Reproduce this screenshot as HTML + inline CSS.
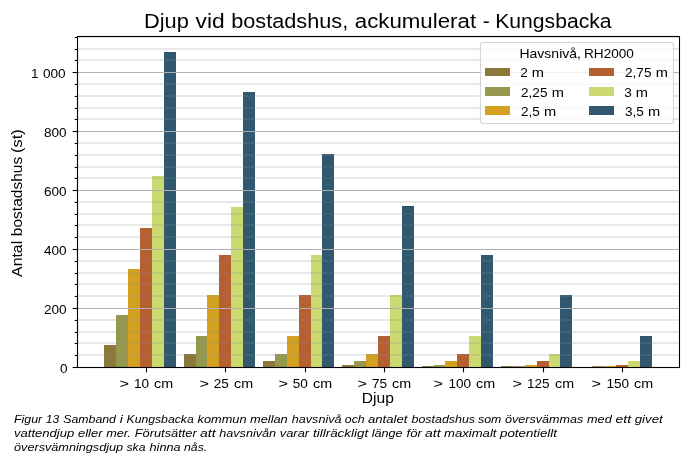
<!DOCTYPE html>
<html><head><meta charset="utf-8"><title>Djup vid bostadshus</title>
<style>
html,body{margin:0;padding:0;background:#fff;}
body{width:700px;height:459px;overflow:hidden;}
svg{display:block;}
text{font-family:"Liberation Sans",sans-serif;fill:#000;}
.tk{font-size:12.9px;}
.lb{font-size:14.3px;}
.cap{font-size:11.5px;}
.ti{font-size:20.0px;}
.cap{font-style:italic;}
</style></head><body>
<svg width="700" height="459" viewBox="0 0 700 459">
<rect x="0" y="0" width="700" height="459" fill="#fff"/>
<g shape-rendering="crispEdges">
<rect x="104" y="345" width="12" height="22.5" fill="#8c783c"/>
<rect x="116" y="315" width="12" height="52.5" fill="#96994d"/>
<rect x="128" y="269" width="12" height="98.5" fill="#d4a020"/>
<rect x="140" y="228" width="12" height="139.5" fill="#b56030"/>
<rect x="152" y="176" width="12" height="191.5" fill="#ccd870"/>
<rect x="164" y="52" width="12" height="315.5" fill="#30586e"/>
<rect x="184" y="354" width="12" height="13.5" fill="#8c783c"/>
<rect x="196" y="336" width="11" height="31.5" fill="#96994d"/>
<rect x="207" y="295" width="12" height="72.5" fill="#d4a020"/>
<rect x="219" y="255" width="12" height="112.5" fill="#b56030"/>
<rect x="231" y="207" width="12" height="160.5" fill="#ccd870"/>
<rect x="243" y="92" width="12" height="275.5" fill="#30586e"/>
<rect x="263" y="361" width="12" height="6.5" fill="#8c783c"/>
<rect x="275" y="354" width="12" height="13.5" fill="#96994d"/>
<rect x="287" y="336" width="12" height="31.5" fill="#d4a020"/>
<rect x="299" y="295" width="12" height="72.5" fill="#b56030"/>
<rect x="311" y="255" width="11" height="112.5" fill="#ccd870"/>
<rect x="322" y="154" width="12" height="213.5" fill="#30586e"/>
<rect x="342" y="365" width="12" height="2.5" fill="#8c783c"/>
<rect x="354" y="361" width="12" height="6.5" fill="#96994d"/>
<rect x="366" y="354" width="12" height="13.5" fill="#d4a020"/>
<rect x="378" y="336" width="12" height="31.5" fill="#b56030"/>
<rect x="390" y="295" width="12" height="72.5" fill="#ccd870"/>
<rect x="402" y="206" width="12" height="161.5" fill="#30586e"/>
<rect x="422" y="366" width="12" height="1.5" fill="#8c783c"/>
<rect x="434" y="365" width="11" height="2.5" fill="#96994d"/>
<rect x="445" y="361" width="12" height="6.5" fill="#d4a020"/>
<rect x="457" y="354" width="12" height="13.5" fill="#b56030"/>
<rect x="469" y="336" width="12" height="31.5" fill="#ccd870"/>
<rect x="481" y="255" width="12" height="112.5" fill="#30586e"/>
<rect x="501" y="366" width="12" height="1.5" fill="#8c783c"/>
<rect x="513" y="366" width="12" height="1.5" fill="#96994d"/>
<rect x="525" y="365" width="12" height="2.5" fill="#d4a020"/>
<rect x="537" y="361" width="12" height="6.5" fill="#b56030"/>
<rect x="549" y="354" width="11" height="13.5" fill="#ccd870"/>
<rect x="560" y="295" width="12" height="72.5" fill="#30586e"/>
<rect x="592" y="366" width="12" height="1.5" fill="#96994d"/>
<rect x="604" y="366" width="12" height="1.5" fill="#d4a020"/>
<rect x="616" y="365" width="12" height="2.5" fill="#b56030"/>
<rect x="628" y="361" width="12" height="6.5" fill="#ccd870"/>
<rect x="640" y="336" width="12" height="31.5" fill="#30586e"/>
</g>
<g stroke="#8c8c8c" stroke-opacity="0.2" stroke-width="2">
<line x1="77.5" x2="679.5" y1="355.0" y2="355.0"/>
<line x1="77.5" x2="679.5" y1="343.0" y2="343.0"/>
<line x1="77.5" x2="679.5" y1="332.0" y2="332.0"/>
<line x1="77.5" x2="679.5" y1="320.0" y2="320.0"/>
<line x1="77.5" x2="679.5" y1="296.0" y2="296.0"/>
<line x1="77.5" x2="679.5" y1="284.0" y2="284.0"/>
<line x1="77.5" x2="679.5" y1="273.0" y2="273.0"/>
<line x1="77.5" x2="679.5" y1="261.0" y2="261.0"/>
<line x1="77.5" x2="679.5" y1="237.0" y2="237.0"/>
<line x1="77.5" x2="679.5" y1="225.0" y2="225.0"/>
<line x1="77.5" x2="679.5" y1="214.0" y2="214.0"/>
<line x1="77.5" x2="679.5" y1="202.0" y2="202.0"/>
<line x1="77.5" x2="679.5" y1="178.0" y2="178.0"/>
<line x1="77.5" x2="679.5" y1="167.0" y2="167.0"/>
<line x1="77.5" x2="679.5" y1="155.0" y2="155.0"/>
<line x1="77.5" x2="679.5" y1="143.0" y2="143.0"/>
<line x1="77.5" x2="679.5" y1="119.0" y2="119.0"/>
<line x1="77.5" x2="679.5" y1="108.0" y2="108.0"/>
<line x1="77.5" x2="679.5" y1="96.0" y2="96.0"/>
<line x1="77.5" x2="679.5" y1="84.0" y2="84.0"/>
<line x1="77.5" x2="679.5" y1="60.0" y2="60.0"/>
<line x1="77.5" x2="679.5" y1="49.0" y2="49.0"/>
<line x1="77.5" x2="679.5" y1="37.0" y2="37.0"/>
</g>
<g stroke="#b0b0b0" stroke-width="1.1">
<line x1="77.5" x2="679.5" y1="308.5" y2="308.5"/>
<line x1="77.5" x2="679.5" y1="249.5" y2="249.5"/>
<line x1="77.5" x2="679.5" y1="190.5" y2="190.5"/>
<line x1="77.5" x2="679.5" y1="131.5" y2="131.5"/>
<line x1="77.5" x2="679.5" y1="72.5" y2="72.5"/>
</g>
<g stroke="#000" stroke-width="1.1">
<line x1="72.64" x2="77.5" y1="367.5" y2="367.5"/>
<line x1="74.72" x2="77.5" y1="355.5" y2="355.5"/>
<line x1="74.72" x2="77.5" y1="343.5" y2="343.5"/>
<line x1="74.72" x2="77.5" y1="332.5" y2="332.5"/>
<line x1="74.72" x2="77.5" y1="320.5" y2="320.5"/>
<line x1="72.64" x2="77.5" y1="308.5" y2="308.5"/>
<line x1="74.72" x2="77.5" y1="296.5" y2="296.5"/>
<line x1="74.72" x2="77.5" y1="284.5" y2="284.5"/>
<line x1="74.72" x2="77.5" y1="273.5" y2="273.5"/>
<line x1="74.72" x2="77.5" y1="261.5" y2="261.5"/>
<line x1="72.64" x2="77.5" y1="249.5" y2="249.5"/>
<line x1="74.72" x2="77.5" y1="237.5" y2="237.5"/>
<line x1="74.72" x2="77.5" y1="225.5" y2="225.5"/>
<line x1="74.72" x2="77.5" y1="214.5" y2="214.5"/>
<line x1="74.72" x2="77.5" y1="202.5" y2="202.5"/>
<line x1="72.64" x2="77.5" y1="190.5" y2="190.5"/>
<line x1="74.72" x2="77.5" y1="178.5" y2="178.5"/>
<line x1="74.72" x2="77.5" y1="167.5" y2="167.5"/>
<line x1="74.72" x2="77.5" y1="155.5" y2="155.5"/>
<line x1="74.72" x2="77.5" y1="143.5" y2="143.5"/>
<line x1="72.64" x2="77.5" y1="131.5" y2="131.5"/>
<line x1="74.72" x2="77.5" y1="119.5" y2="119.5"/>
<line x1="74.72" x2="77.5" y1="108.5" y2="108.5"/>
<line x1="74.72" x2="77.5" y1="96.5" y2="96.5"/>
<line x1="74.72" x2="77.5" y1="84.5" y2="84.5"/>
<line x1="72.64" x2="77.5" y1="72.5" y2="72.5"/>
<line x1="74.72" x2="77.5" y1="60.5" y2="60.5"/>
<line x1="74.72" x2="77.5" y1="49.5" y2="49.5"/>
<line x1="74.72" x2="77.5" y1="37.5" y2="37.5"/>
<line x1="146.5" x2="146.5" y1="367.5" y2="372.36"/>
<line x1="225.5" x2="225.5" y1="367.5" y2="372.36"/>
<line x1="305.5" x2="305.5" y1="367.5" y2="372.36"/>
<line x1="384.5" x2="384.5" y1="367.5" y2="372.36"/>
<line x1="463.5" x2="463.5" y1="367.5" y2="372.36"/>
<line x1="543.5" x2="543.5" y1="367.5" y2="372.36"/>
<line x1="622.5" x2="622.5" y1="367.5" y2="372.36"/>
</g>
<rect x="77.5" y="36.5" width="602.0" height="331.0" fill="none" stroke="#000" stroke-width="1.1"/>
<rect x="480.5" y="42.5" width="193.0" height="81.0" rx="2.5" ry="2.5" fill="#fff" fill-opacity="0.8" stroke="#ccc" stroke-opacity="0.8" stroke-width="1.1"/>
<rect x="485" y="68" width="25" height="8" fill="#8c783c" shape-rendering="crispEdges"/>
<rect x="485" y="87" width="25" height="9" fill="#96994d" shape-rendering="crispEdges"/>
<rect x="485" y="106" width="25" height="9" fill="#d4a020" shape-rendering="crispEdges"/>
<rect x="589" y="68" width="25" height="8" fill="#b56030" shape-rendering="crispEdges"/>
<rect x="589" y="87" width="25" height="9" fill="#ccd870" shape-rendering="crispEdges"/>
<rect x="589" y="106" width="25" height="9" fill="#30586e" shape-rendering="crispEdges"/>
<g style="filter:grayscale(1)">
<text class="tk" y="372.70"><tspan x="60.00" textLength="7.56" lengthAdjust="spacingAndGlyphs">0</tspan></text>
<text class="tk" y="313.70"><tspan x="44.00" textLength="22.67" lengthAdjust="spacingAndGlyphs">200</tspan></text>
<text class="tk" y="254.70"><tspan x="44.00" textLength="22.67" lengthAdjust="spacingAndGlyphs">400</tspan></text>
<text class="tk" y="195.70"><tspan x="44.00" textLength="22.67" lengthAdjust="spacingAndGlyphs">600</tspan></text>
<text class="tk" y="136.70"><tspan x="44.00" textLength="22.67" lengthAdjust="spacingAndGlyphs">800</tspan></text>
<text class="tk" y="77.70"><tspan x="31.00" textLength="7.56" lengthAdjust="spacingAndGlyphs">1</tspan> <tspan x="43.00" textLength="22.67" lengthAdjust="spacingAndGlyphs">000</tspan></text>
<text class="tk" y="387.60"><tspan x="119.50" textLength="9.43" lengthAdjust="spacingAndGlyphs">&gt;</tspan> <tspan x="134.00" textLength="15.11" lengthAdjust="spacingAndGlyphs">10</tspan> <tspan x="154.00" textLength="19.05" lengthAdjust="spacingAndGlyphs">cm</tspan></text>
<text class="tk" y="387.60"><tspan x="199.50" textLength="9.43" lengthAdjust="spacingAndGlyphs">&gt;</tspan> <tspan x="213.75" textLength="15.11" lengthAdjust="spacingAndGlyphs">25</tspan> <tspan x="234.00" textLength="19.05" lengthAdjust="spacingAndGlyphs">cm</tspan></text>
<text class="tk" y="387.60"><tspan x="278.50" textLength="9.43" lengthAdjust="spacingAndGlyphs">&gt;</tspan> <tspan x="292.75" textLength="15.11" lengthAdjust="spacingAndGlyphs">50</tspan> <tspan x="313.00" textLength="19.05" lengthAdjust="spacingAndGlyphs">cm</tspan></text>
<text class="tk" y="387.60"><tspan x="357.50" textLength="9.43" lengthAdjust="spacingAndGlyphs">&gt;</tspan> <tspan x="372.00" textLength="15.11" lengthAdjust="spacingAndGlyphs">75</tspan> <tspan x="392.00" textLength="19.05" lengthAdjust="spacingAndGlyphs">cm</tspan></text>
<text class="tk" y="387.60"><tspan x="433.50" textLength="9.43" lengthAdjust="spacingAndGlyphs">&gt;</tspan> <tspan x="448.50" textLength="22.67" lengthAdjust="spacingAndGlyphs">100</tspan> <tspan x="476.00" textLength="19.05" lengthAdjust="spacingAndGlyphs">cm</tspan></text>
<text class="tk" y="387.60"><tspan x="512.50" textLength="9.43" lengthAdjust="spacingAndGlyphs">&gt;</tspan> <tspan x="527.00" textLength="22.67" lengthAdjust="spacingAndGlyphs">125</tspan> <tspan x="555.00" textLength="19.05" lengthAdjust="spacingAndGlyphs">cm</tspan></text>
<text class="tk" y="387.60"><tspan x="591.50" textLength="9.43" lengthAdjust="spacingAndGlyphs">&gt;</tspan> <tspan x="606.50" textLength="22.67" lengthAdjust="spacingAndGlyphs">150</tspan> <tspan x="634.00" textLength="19.05" lengthAdjust="spacingAndGlyphs">cm</tspan></text>
<text class="lb" y="403.20"><tspan x="361.75" textLength="32.14" lengthAdjust="spacingAndGlyphs">Djup</tspan></text>
<text class="lb" transform="translate(21.70,0) rotate(-90)"><tspan x="-276.90" textLength="36.08" lengthAdjust="spacingAndGlyphs">Antal</tspan> <tspan x="-236.15" textLength="79.32" lengthAdjust="spacingAndGlyphs">bostadshus</tspan> <tspan x="-152.90" textLength="23.50" lengthAdjust="spacingAndGlyphs">(st)</tspan></text>
<text class="ti" y="28.00"><tspan x="144.00" textLength="44.88" lengthAdjust="spacingAndGlyphs">Djup</tspan> <tspan x="195.50" textLength="29.15" lengthAdjust="spacingAndGlyphs">vid</tspan> <tspan x="231.25" textLength="116.92" lengthAdjust="spacingAndGlyphs">bostadshus,</tspan> <tspan x="354.75" textLength="121.32" lengthAdjust="spacingAndGlyphs">ackumulerat</tspan> <tspan x="482.75" textLength="6.99" lengthAdjust="spacingAndGlyphs">-</tspan> <tspan x="495.25" textLength="116.29" lengthAdjust="spacingAndGlyphs">Kungsbacka</tspan></text>
<text class="tk" y="57.70"><tspan x="519.50" textLength="61.40" lengthAdjust="spacingAndGlyphs">Havsnivå,</tspan> <tspan x="584.00" textLength="49.90" lengthAdjust="spacingAndGlyphs">RH2000</tspan></text>
<text class="cap" y="422.75"><tspan x="14.00" textLength="28.18" lengthAdjust="spacingAndGlyphs">Figur</tspan> <tspan x="45.75" textLength="13.45" lengthAdjust="spacingAndGlyphs">13</tspan> <tspan x="63.25" textLength="52.71" lengthAdjust="spacingAndGlyphs">Samband</tspan> <tspan x="119.75" textLength="3.09" lengthAdjust="spacingAndGlyphs">i</tspan> <tspan x="126.50" textLength="67.21" lengthAdjust="spacingAndGlyphs">Kungsbacka</tspan> <tspan x="197.50" textLength="49.02" lengthAdjust="spacingAndGlyphs">kommun</tspan> <tspan x="250.00" textLength="37.73" lengthAdjust="spacingAndGlyphs">mellan</tspan> <tspan x="291.75" textLength="49.79" lengthAdjust="spacingAndGlyphs">havsnivå</tspan> <tspan x="344.75" textLength="19.97" lengthAdjust="spacingAndGlyphs">och</tspan> <tspan x="368.00" textLength="39.34" lengthAdjust="spacingAndGlyphs">antalet</tspan> <tspan x="411.50" textLength="63.60" lengthAdjust="spacingAndGlyphs">bostadshus</tspan> <tspan x="478.00" textLength="23.44" lengthAdjust="spacingAndGlyphs">som</tspan> <tspan x="505.00" textLength="78.29" lengthAdjust="spacingAndGlyphs">översvämmas</tspan> <tspan x="587.00" textLength="24.74" lengthAdjust="spacingAndGlyphs">med</tspan> <tspan x="615.50" textLength="15.57" lengthAdjust="spacingAndGlyphs">ett</tspan> <tspan x="634.75" textLength="27.94" lengthAdjust="spacingAndGlyphs">givet</tspan></text>
<text class="cap" y="436.80"><tspan x="14.00" textLength="60.29" lengthAdjust="spacingAndGlyphs">vattendjup</tspan> <tspan x="78.00" textLength="24.44" lengthAdjust="spacingAndGlyphs">eller</tspan> <tspan x="106.25" textLength="24.78" lengthAdjust="spacingAndGlyphs">mer.</tspan> <tspan x="134.75" textLength="61.95" lengthAdjust="spacingAndGlyphs">Förutsätter</tspan> <tspan x="200.00" textLength="15.54" lengthAdjust="spacingAndGlyphs">att</tspan> <tspan x="219.25" textLength="56.84" lengthAdjust="spacingAndGlyphs">havsnivån</tspan> <tspan x="279.75" textLength="29.37" lengthAdjust="spacingAndGlyphs">varar</tspan> <tspan x="313.00" textLength="55.19" lengthAdjust="spacingAndGlyphs">tillräckligt</tspan> <tspan x="371.75" textLength="30.87" lengthAdjust="spacingAndGlyphs">länge</tspan> <tspan x="406.50" textLength="15.30" lengthAdjust="spacingAndGlyphs">för</tspan> <tspan x="425.00" textLength="15.54" lengthAdjust="spacingAndGlyphs">att</tspan> <tspan x="444.00" textLength="52.44" lengthAdjust="spacingAndGlyphs">maximalt</tspan> <tspan x="500.00" textLength="56.97" lengthAdjust="spacingAndGlyphs">potentiellt</tspan></text>
<text class="cap" y="450.85"><tspan x="14.00" textLength="109.16" lengthAdjust="spacingAndGlyphs">översvämningsdjup</tspan> <tspan x="126.50" textLength="19.06" lengthAdjust="spacingAndGlyphs">ska</tspan> <tspan x="149.50" textLength="31.06" lengthAdjust="spacingAndGlyphs">hinna</tspan> <tspan x="184.00" textLength="23.20" lengthAdjust="spacingAndGlyphs">nås.</tspan></text>
<text class="tk" y="76.80"><tspan x="520.25" textLength="7.56" lengthAdjust="spacingAndGlyphs">2</tspan> <tspan x="531.75" textLength="12.18" lengthAdjust="spacingAndGlyphs">m</tspan></text>
<text class="tk" y="96.50"><tspan x="521.00" textLength="26.44" lengthAdjust="spacingAndGlyphs">2,25</tspan> <tspan x="551.75" textLength="12.18" lengthAdjust="spacingAndGlyphs">m</tspan></text>
<text class="tk" y="116.00"><tspan x="521.00" textLength="18.89" lengthAdjust="spacingAndGlyphs">2,5</tspan> <tspan x="544.00" textLength="12.18" lengthAdjust="spacingAndGlyphs">m</tspan></text>
<text class="tk" y="76.80"><tspan x="625.00" textLength="26.44" lengthAdjust="spacingAndGlyphs">2,75</tspan> <tspan x="655.75" textLength="12.18" lengthAdjust="spacingAndGlyphs">m</tspan></text>
<text class="tk" y="96.50"><tspan x="624.25" textLength="7.56" lengthAdjust="spacingAndGlyphs">3</tspan> <tspan x="635.75" textLength="12.18" lengthAdjust="spacingAndGlyphs">m</tspan></text>
<text class="tk" y="116.00"><tspan x="625.00" textLength="18.89" lengthAdjust="spacingAndGlyphs">3,5</tspan> <tspan x="648.00" textLength="12.18" lengthAdjust="spacingAndGlyphs">m</tspan></text>
</g>
</svg>
</body></html>
